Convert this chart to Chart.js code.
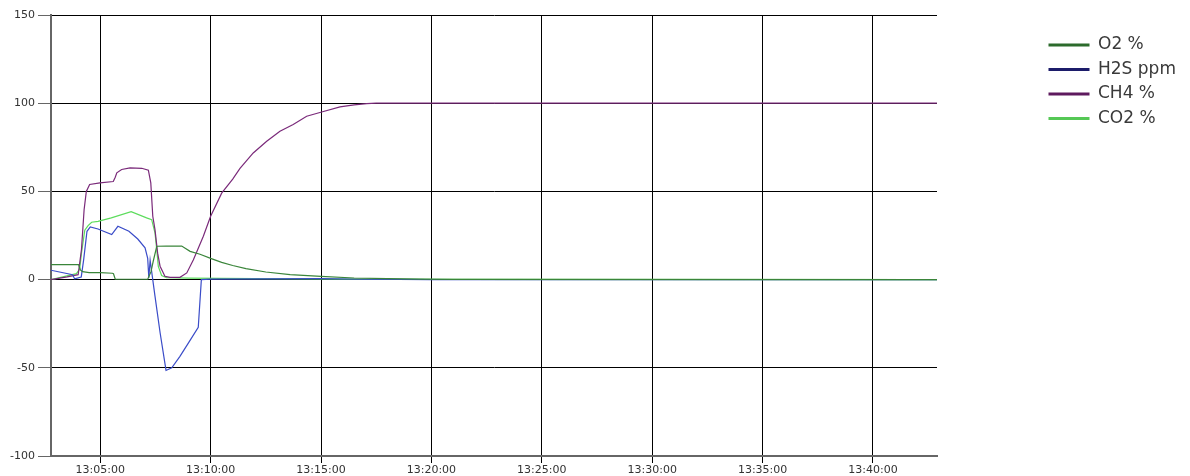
<!DOCTYPE html>
<html><head><meta charset="utf-8">
<script src="https://cdn.jsdelivr.net/npm/chart.js@4/dist/chart.umd.min.js"></script>
<style>html,body{margin:0;padding:0;background:#fff;} #c{display:block;}</style>
</head><body>
<canvas id="c" width="1190" height="476"></canvas>
<script>
// minutes after 13:00
const seriesNames = ['O2 %', 'H2S ppm', 'CH4 %', 'CO2 %'];

const o2Minutes = [2.77, 4.02, 4.1, 4.2, 4.5, 5.0, 5.55, 5.6, 5.68, 7.15, 7.3, 7.4, 7.56, 8.0, 8.69, 9.07, 9.52, 10.0, 10.5, 11.0, 11.6, 12.5, 13.6, 15.0, 16.5, 18.0, 19.5, 21.0, 42.9];
const o2Values  = [8.5, 8.5, 5.5, 4.5, 4.0, 3.9, 3.6, 3.3, 0.2, 0.2, 4.5, 10.4, 18.9, 19.0, 19.0, 16.0, 14.4, 12.0, 9.8, 8.0, 6.2, 4.3, 2.8, 1.8, 0.9, 0.5, 0.3, 0.1, 0.0];

const h2sMinutes = [2.77, 3.75, 3.84, 4.14, 4.25, 4.4, 4.55, 4.9, 5.52, 5.8, 6.3, 6.7, 7.03, 7.15, 7.2, 7.26, 7.48, 7.71, 7.98, 8.24, 8.61, 8.99, 9.44, 9.58, 10.0, 15.0, 17.0, 20.0, 42.9];
const h2sValues  = [5.3, 2.8, 0.4, 1.5, 11.3, 27.4, 29.9, 28.7, 25.5, 30.2, 27.4, 23.0, 18.0, 12.0, 1.0, 11.0, -9.4, -30.0, -51.5, -50.0, -43.5, -36.0, -27.0, 0.0, 0.3, 0.5, 0.2, 0.0, 0.0];

const ch4Minutes = [2.77, 3.5, 4.0, 4.15, 4.27, 4.37, 4.52, 4.99, 5.59, 5.68, 5.75, 5.97, 6.35, 6.88, 7.18, 7.29, 7.38, 7.48, 7.6, 7.71, 7.93, 8.16, 8.61, 8.92, 9.22, 9.67, 10.0, 10.5, 11.0, 11.33, 11.93, 12.54, 13.14, 13.74, 14.35, 15.03, 15.86, 16.5, 17.07, 17.5, 42.9];
const ch4Values  = [0.0, 1.5, 2.8, 17.0, 39.7, 50.0, 53.9, 54.8, 55.6, 58.0, 60.5, 62.4, 63.3, 63.1, 62.0, 54.8, 35.9, 28.3, 15.0, 7.6, 1.9, 1.3, 1.3, 3.8, 11.3, 24.6, 35.9, 49.0, 57.0, 63.0, 71.8, 78.4, 84.1, 87.9, 92.6, 95.0, 97.9, 99.0, 99.8, 100.0, 100.0];

const co2Minutes = [2.77, 3.92, 4.07, 4.15, 4.3, 4.45, 4.61, 4.9, 5.5, 6.4, 7.1, 7.33, 7.48, 7.56, 7.63, 7.78, 8.0, 9.0, 12.0, 16.0, 20.0, 42.9];
const co2Values  = [0.0, 3.4, 6.0, 15.0, 28.0, 30.6, 32.5, 33.0, 35.0, 38.5, 35.0, 34.0, 26.5, 17.0, 7.5, 2.3, 1.1, 0.8, 0.5, 0.3, 0.1, 0.0];

const xTickMinutes = [5, 10, 15, 20, 25, 30, 35, 40];
const yTickValues = [-100, -50, 0, 50, 100, 150];

const lineColors = ['#3a853a', '#3a4cc8', '#7a2a7a', '#5cdc5c'];
const legendColors = ['#2c6b2c', '#1c1c6a', '#5e1a5e', '#55c855'];

function pts(ts, vs) { return ts.map((t, i) => ({x: t, y: vs[i]})); }
function fmtTime(m) {
  const mm = Math.floor(m + 1e-6);
  const ss = Math.round((m - mm) * 60);
  return '13:' + String(mm).padStart(2, '0') + ':' + String(ss).padStart(2, '0');
}

const allData = [pts(o2Minutes, o2Values), pts(h2sMinutes, h2sValues), pts(ch4Minutes, ch4Values), pts(co2Minutes, co2Values)];

const legendPlacer = {
  id: 'legendPlacer',
  beforeUpdate(chart) {
    const lg = chart.legend;
    if (lg && !lg._patched) {
      const f = lg.fit;
      lg.fit = function() { f.call(this); this.width = 253; };
      lg._patched = true;
    }
  },
  afterLayout(chart) {
    const lg = chart.legend;
    if (lg) { lg.left = 1041; lg.top = 29; }
  }
};

new Chart(document.getElementById('c'), {
  type: 'line',
  data: {
    datasets: seriesNames.map((n, i) => ({
      label: n,
      data: allData[i],
      borderColor: lineColors[i],
      backgroundColor: lineColors[i],
      borderWidth: 1.2,
      pointRadius: 0,
      tension: 0,
      fill: false
    }))
  },
  options: {
    responsive: false,
    animation: false,
    devicePixelRatio: 1,
    layout: {padding: {top: 15, right: 0, bottom: 0, left: 0}},
    plugins: {
      tooltip: {enabled: false},
      legend: {
        position: 'right',
        align: 'start',
        labels: {
          boxWidth: 41,
          boxHeight: 3,
          padding: 7.5,
          color: '#3a3a3a',
          font: {family: 'DejaVu Sans', size: 17},
          generateLabels(chart) {
            const items = Chart.defaults.plugins.legend.labels.generateLabels(chart);
            items.forEach(it => {
              it.fillStyle = legendColors[it.datasetIndex];
              it.strokeStyle = legendColors[it.datasetIndex];
              it.lineWidth = 0;
            });
            return items;
          }
        }
      }
    },
    scales: {
      x: {
        type: 'linear',
        min: 2.77,
        max: 42.9,
        afterBuildTicks(scale) { scale.ticks = xTickMinutes.map(v => ({value: v})); },
        afterFit(scale) { scale.height = 20; },
        ticks: {
          autoSkip: false, maxRotation: 0, padding: 1,
          color: '#333', font: {family: 'DejaVu Sans', size: 11},
          callback: v => fmtTime(v)
        },
        grid: {color: '#000', lineWidth: 1, tickLength: 7, tickColor: '#000'},
        border: {color: '#666', width: 2}
      },
      y: {
        type: 'linear',
        min: -100,
        max: 150,
        afterBuildTicks(scale) { scale.ticks = yTickValues.map(v => ({value: v})); },
        afterFit(scale) { scale.width = 51; },
        ticks: {
          padding: 3, color: '#333', font: {family: 'DejaVu Sans', size: 11},
          callback: v => String(v)
        },
        grid: {color: '#000', lineWidth: 1, tickLength: 13, tickColor: '#666'},
        border: {color: '#666', width: 2}
      }
    }
  },
  plugins: [legendPlacer]
});
</script>
</body></html>
